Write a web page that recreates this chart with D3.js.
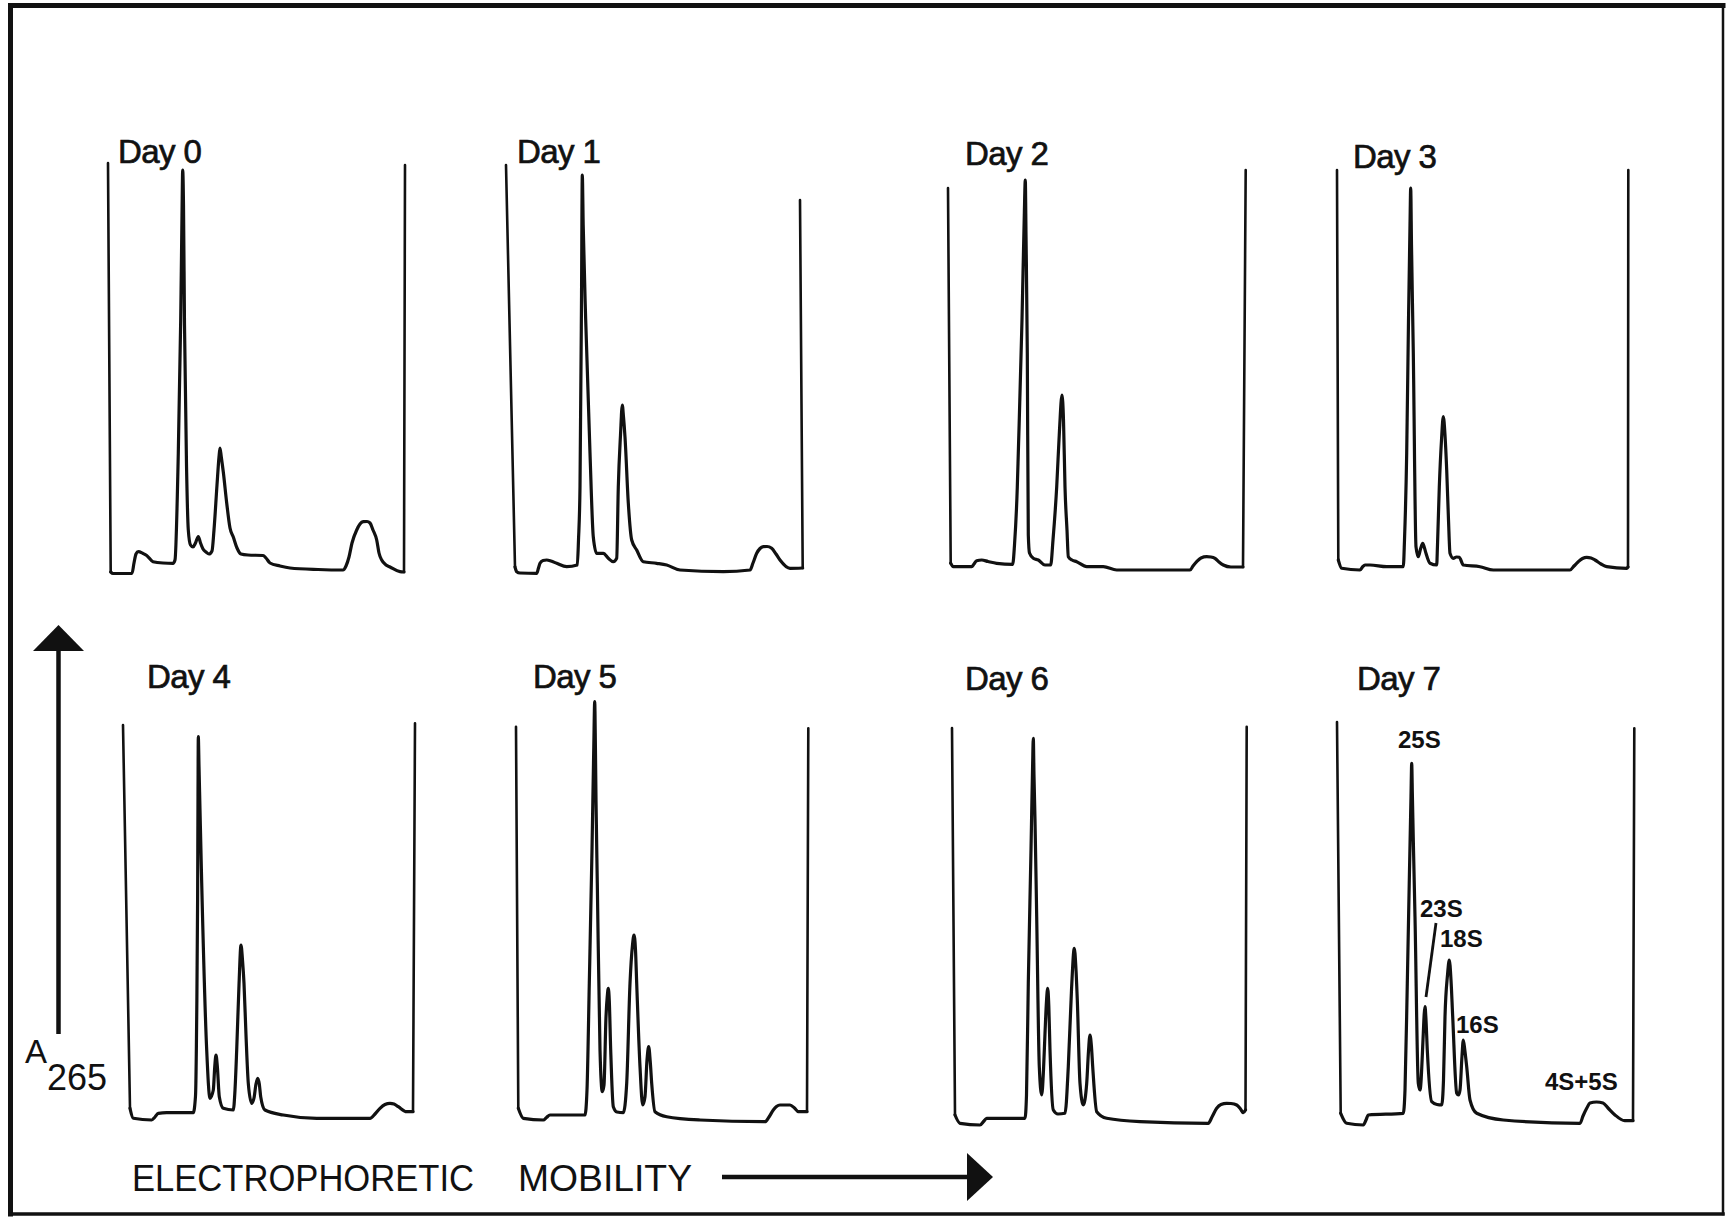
<!DOCTYPE html>
<html>
<head>
<meta charset="utf-8">
<script src="https://cdn.jsdelivr.net/npm/d3@7/dist/d3.min.js"></script>
<style>
  html, body { margin: 0; padding: 0; background: #fff; }
  svg { display: block; }
</style>
</head>
<body>
<svg id="fig" width="1728" height="1218"></svg>
<script>
// Densitometer scans (A265) of RNA gels, one trace per day of culture.
// Each trace: [mobility, absorbance] in arbitrary scan units; the first and
// last points are the tops of the two vertical pen strokes that bound the scan.
const days = ["Day 0", "Day 1", "Day 2", "Day 3", "Day 4", "Day 5", "Day 6", "Day 7"];

const day0 = [[0,412],[2.7,3],[5,1.5],[24,1.7],[26,12],[28,21],[30.3,23.3],[35,21.5],[38.7,19.5],[45,13.3],[55,12],[65,11.7],[67,15],[70.3,122],[72.7,255],[74,360],[74.7,405],[75.5,370],[76.5,250],[78.5,110],[80.3,45],[82.5,30],[85,28],[87.5,32],[90.3,38.5],[92.5,32],[95,26],[98,23],[101,21],[104,24],[106,45],[109,90],[111,118],[112,127],[113.3,118],[115.3,103],[118.7,72],[122,47],[125.3,38],[129,27],[133,21],[140,20],[155,19.5],[158,17],[162,12],[172,9],[182,7],[210,5.5],[235,5],[238,9],[241,18],[244,32],[248.7,45],[252,51],[255.3,53.3],[259,53.5],[262,52],[265,45],[268.7,35],[271,22],[273.7,15],[278,10],[282,8],[292,3.3],[296,3],[297,410]];

const day1 = [[0,410],[9,8],[10.7,3.3],[14,2],[30.7,1.7],[32.5,7],[34,11.7],[37,14.5],[40.7,15],[45,14],[50.7,11.7],[60.7,8.3],[71.3,10],[72.5,35],[74,88],[75.5,275],[76.3,400],[77.2,350],[79.7,255],[84,122],[87.3,38],[90.7,21.7],[97.3,21.7],[102.3,16.7],[107.3,13.3],[110.7,16.7],[112.3,88],[114.5,140],[116.3,170],[117.5,158],[119,138],[122.3,72],[125.7,35],[130.7,25],[137.3,13.3],[150.7,11.7],[160.7,10],[174,5],[217.3,3.3],[244,5],[247,12],[250.7,21.7],[254,26.5],[257.3,28.3],[261,28.5],[265.7,26.7],[270,21],[274,15],[284,6.7],[296.7,7],[294,375]];

const day2 = [[0,387],[2.7,11.7],[5.3,8.3],[23.7,8.3],[26,11],[28.7,14.3],[33.7,15],[40,13.5],[48.7,11.7],[64.7,10.7],[66.5,30],[69.3,88],[70.3,122],[74,255],[76.3,360],[77.3,395],[78,340],[79.3,222],[80.3,40],[81.5,22],[85.3,16.7],[90.3,15],[97,10],[102.7,10],[105,35],[108.7,88],[111.5,145],[114,180],[115.5,155],[117,88],[119,45],[120.3,18.3],[124,15],[128.7,13.3],[138.7,8.3],[155.3,8.3],[168.7,5],[242,5],[245,9],[248.7,13.3],[253,17],[258.7,18.3],[263,18],[267,16.7],[271,13],[275.3,10],[283,8],[295,8],[297.7,405]];

const day3 = [[0,405],[1.3,15],[4.7,6.7],[23,5],[25.5,8],[28,10],[33,10],[49.7,8.3],[66.3,8.3],[67.5,35],[69.7,122],[71.5,255],[73,350],[73.7,387],[74.5,330],[76.3,222],[79,28.3],[81.3,18.3],[83.5,26],[85.7,31.7],[87.5,27],[89,21.7],[93,11.7],[99.7,10],[100.5,30],[102.3,88],[104.5,135],[106.3,158.3],[108,140],[109.7,105],[111.5,55],[113,21.7],[116.3,16.7],[119.5,18],[122.3,17.7],[126.3,10],[143,8.3],[156.3,5],[233,5],[237,9],[241.3,13.3],[245.5,16.5],[249.7,17.7],[254,17],[258,15],[264,11],[269.7,8.3],[289.7,6.7],[291,8],[291.3,405]];

const day4 = [[0,401],[7,17.7],[10.3,7.7],[28.7,6],[32,9],[35.3,12.7],[43.7,13.3],[70.3,13.3],[72.5,30],[73.7,109.3],[74.6,226],[75,330],[75.3,389.3],[76,360],[77,316],[78.7,243],[83.7,76],[87,27.7],[90.3,36],[91.8,60],[93,71],[94.3,60],[96.3,29.3],[100.3,17.7],[110.3,16],[112,36],[113.7,76],[116,141],[118,181],[119.5,166],[121,142.7],[123,91],[125.3,42.7],[128.7,22.7],[131,28],[133,42],[134.7,47.7],[136.3,42],[137.7,29.3],[142,16],[160.3,11],[193.7,7.7],[247,7.7],[252,12],[257,17.7],[262,21.5],[267,22.7],[271,22],[275.3,19.3],[283.7,14.3],[290,14.3],[292,402.7]];

const day5 = [[0,399.3],[2.3,17.7],[7.3,7.7],[27.3,6],[30.5,8.5],[34,11],[69,11],[71,36],[73.3,142.7],[76,276],[77.8,380],[78.7,424.3],[79.4,380],[80,326],[81.3,243],[84,76],[86.3,34.3],[88,41],[90,109.3],[91.3,130],[92.3,137.7],[93.3,125],[94.7,76],[97.3,19.3],[101,14],[107.3,13.3],[110.7,42.7],[114,142.7],[116.5,181],[118,191],[119.5,176],[120.7,142.7],[124,59.3],[126.7,21],[129,29.3],[131,66],[132.7,79.3],[134.2,65],[135.7,42.7],[139,14.3],[150.7,9.3],[184,6],[249,4.3],[253,9],[257.3,16],[260.5,19.5],[264,21],[274,21],[278.5,18],[282.3,14.3],[291,14.3],[292.3,397.7]];

const day6 = [[0,398],[3,11],[8,2.7],[28,1],[31.5,4.5],[34.7,7.7],[73,7.7],[74.5,31],[76.3,142.7],[79,276],[80.6,360],[81.3,387.7],[82,350],[83,306],[84.7,209.3],[87.3,59.3],[89.7,31],[91.5,56],[93,92.7],[94.5,125],[95.7,137.7],[96.8,120],[98,76],[101.3,16],[106,12],[113,12.7],[116.3,59.3],[119.5,136],[122.3,177.7],[123.8,160],[125.3,126],[128,42.7],[131.3,21],[134.7,42.7],[136.5,75],[138,91],[139.4,80],[140.7,59.3],[144.7,14.3],[154.7,7.7],[188,4.3],[256.3,2.7],[260,9],[264.7,17.7],[269,21.5],[274.7,22.7],[279,22.5],[284.7,21],[288.5,17],[291.3,13.3],[293.5,16],[294.7,399.3]];

const day7 = [[0,404],[3.7,12.7],[9.7,2.7],[26.3,1],[29,6],[31.3,11],[66.3,12.7],[68,36],[70.3,142.7],[72.5,256],[74,330],[74.7,362.7],[75.4,330],[76.3,286],[78,209.3],[81.3,42.7],[83,36],[86.3,92.7],[87.2,112],[88,119.3],[88.9,108],[90.3,76],[94.7,24.3],[100,21.5],[104.7,21],[106.5,46],[108,109.3],[110.5,151],[112.3,166],[114,146],[115.7,109.3],[119.7,32.7],[121.5,31],[123,36],[125,70],[126.3,86],[127.8,76],[129.7,59.3],[133,26],[139.7,12.7],[166.3,6],[243,2.7],[246,10],[249.7,17.7],[253,23],[259.5,24],[266,23],[271,18],[277.7,11.3],[287.7,5.3],[296,5.3],[297.3,397.7]];

const traces = [day0, day1, day2, day3, day4, day5, day6, day7];

// Band assignments on the Day 7 scan: [label, mobility, absorbance of text baseline]
const bandLabels = [["25S", 61, 378], ["23S", 83, 209], ["18S", 103, 179], ["16S", 119, 93], ["4S+5S", 208, 36]];
const bandLeader = [[99, 203], [89, 129]];

// ---- layout ----
const W = 1728, H = 1218;
const panelLeft = [108, 506, 948, 1337, 123, 516, 952, 1337];
const rowBase = [575, 1126];
const titleX = [118, 517, 965, 1353, 147, 533, 965, 1357];
const titleY = [163, 163, 165, 168, 688, 688, 690, 690];
const ink = "#111";

const svg = d3.select("#fig");
svg.append("rect").attr("width", W).attr("height", H).attr("fill", "#fff");

// frame
const frame = svg.append("g").attr("stroke", ink).attr("stroke-linecap", "square");
frame.append("line").attr("x1", 10.5).attr("y1", 5.5).attr("x2", 10.5).attr("y2", 1214).attr("stroke-width", 5);
frame.append("line").attr("x1", 10.5).attr("y1", 5.5).attr("x2", 1723).attr("y2", 5.5).attr("stroke-width", 5);
frame.append("line").attr("x1", 1723).attr("y1", 5.5).attr("x2", 1723).attr("y2", 1214).attr("stroke-width", 2.5);
frame.append("line").attr("x1", 10.5).attr("y1", 1214).attr("x2", 1723).attr("y2", 1214).attr("stroke-width", 3.5);

const font = "'Liberation Sans', Arial, Helvetica, sans-serif";

traces.forEach((pts, i) => {
  const left = panelLeft[i];
  const base = rowBase[i < 4 ? 0 : 1];
  const x = d3.scaleLinear().domain([0, 300]).range([left, left + 300]);
  const y = d3.scaleLinear().domain([0, 420]).range([base, base - 420]);
  const g = svg.append("g");

  const straight = d3.line().x(d => x(d[0])).y(d => y(d[1]));
  const smooth = d3.line().x(d => x(d[0])).y(d => y(d[1])).curve(d3.curveMonotoneX);
  const n = pts.length;

  // bounding pen strokes
  g.append("path").attr("d", straight([pts[0], pts[1]]))
    .attr("fill", "none").attr("stroke", ink).attr("stroke-width", 2.6).attr("stroke-linecap", "round");
  g.append("path").attr("d", straight([pts[n - 2], pts[n - 1]]))
    .attr("fill", "none").attr("stroke", ink).attr("stroke-width", 2.6).attr("stroke-linecap", "round");
  // absorbance profile
  g.append("path").attr("d", smooth(pts.slice(1, n - 1)))
    .attr("fill", "none").attr("stroke", ink).attr("stroke-width", 3.2)
    .attr("stroke-linejoin", "round").attr("stroke-linecap", "round");

  g.append("text").attr("x", titleX[i]).attr("y", titleY[i])
    .attr("font-family", font).attr("font-size", 33).attr("letter-spacing", -0.6)
    .attr("fill", ink).attr("stroke", ink).attr("stroke-width", 0.7).text(days[i]);

  if (i === 7) {
    bandLabels.forEach(([t, bx, by]) => {
      g.append("text").attr("x", x(bx)).attr("y", y(by))
        .attr("font-family", font).attr("font-size", 24).attr("font-weight", "bold")
        .attr("fill", ink).text(t);
    });
    g.append("path").attr("d", straight(bandLeader))
      .attr("stroke", ink).attr("stroke-width", 2.8).attr("fill", "none");
  }
});

// vertical axis arrow: A265
svg.append("line").attr("x1", 58.5).attr("y1", 648).attr("x2", 58.5).attr("y2", 1034)
  .attr("stroke", ink).attr("stroke-width", 4.5);
svg.append("path").attr("d", d3.line()([[58.5, 625], [84, 651], [33, 651]]) + "Z").attr("fill", ink);
svg.append("text").attr("x", 25).attr("y", 1063).attr("font-family", font).attr("font-size", 33)
  .attr("fill", ink).text("A");
svg.append("text").attr("x", 47).attr("y", 1090).attr("font-family", font).attr("font-size", 36)
  .attr("fill", ink).text("265");

// horizontal axis label and arrow
svg.append("text").attr("x", 132).attr("y", 1191).attr("font-family", font).attr("font-size", 37)
  .attr("textLength", 342).attr("lengthAdjust", "spacingAndGlyphs").attr("fill", ink).text("ELECTROPHORETIC");
svg.append("text").attr("x", 518).attr("y", 1191).attr("font-family", font).attr("font-size", 37)
  .attr("textLength", 174).attr("lengthAdjust", "spacingAndGlyphs").attr("fill", ink).text("MOBILITY");
svg.append("line").attr("x1", 722).attr("y1", 1177).attr("x2", 972).attr("y2", 1177)
  .attr("stroke", ink).attr("stroke-width", 4.5);
svg.append("path").attr("d", d3.line()([[993, 1177], [967, 1153], [967, 1201]]) + "Z").attr("fill", ink);
</script>
</body>
</html>
